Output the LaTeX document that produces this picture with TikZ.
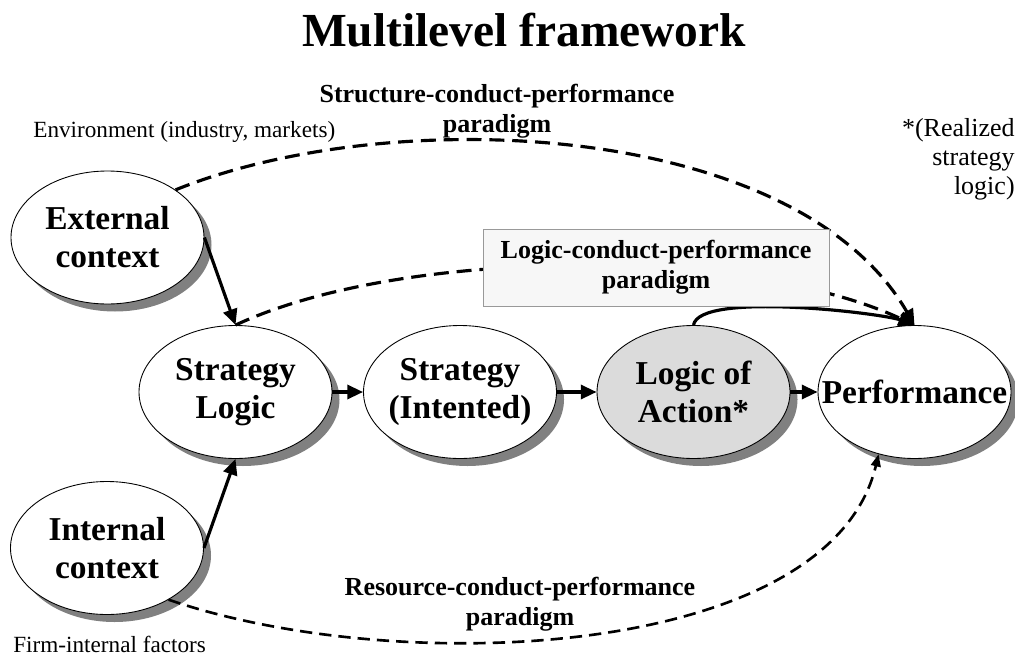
\documentclass[tikz,border=0pt]{standalone}
\usepackage{fontspec}
\setmainfont{Liberation Serif}
\usetikzlibrary{shapes.geometric,shadows,arrows.meta}

\begin{document}
\begin{tikzpicture}[
  level/.style={ellipse, draw, line width=0.5pt, fill=white,
    minimum width=3.86cm, minimum height=2.66cm,
    inner xsep=-0.6cm, inner ysep=0pt, align=center,
    font=\fontsize{19}{21.6}\selectfont\bfseries,
    drop shadow={shadow xshift=0.15cm, shadow yshift=-0.15cm, fill=black!50, opacity=1}},
  flow/.style={-{Triangle[length=9pt,width=8pt]}, line width=1.8pt},
  paradigm/.style={align=center, inner sep=0pt, font=\fontsize{14.8}{17}\selectfont\bfseries},
  note/.style={inner sep=0pt, font=\fontsize{13.2}{15}\selectfont},
]
\useasboundingbox (0,0) rectangle (20.3,13.18);

% title
\node[anchor=base, inner sep=0pt, font=\fontsize{27}{30}\selectfont\bfseries] (title) at (10.48,12.24) {Multilevel framework};

% levels
\node[level] (ext) at (2.15,8.43) {External\\context};
\node[level] (int) at (2.14,2.22) {Internal\\context};
\node[level] (sl) at (4.71,5.34) {Strategy\\Logic};
\node[level] (si) at (9.2,5.34) {Strategy\\(Intented)};
\node[level, fill=black!14] (loa) at (13.87,5.34) {Logic of\\Action*};
\node[level] (perf) at (18.29,5.34) {Performance};

% notes
\node[note, anchor=base west] (env) at (0.66,10.44) {Environment (industry, markets)};
\node[note, anchor=base west] (firm) at (0.26,0.14) {Firm-internal factors};
\node[note, anchor=north east, align=right, font=\fontsize{14.8}{16.5}\selectfont] (real) at (20.3,10.82) {*(Realized\\strategy\\logic)};
\node[paradigm] (scp) at (9.94,10.96) {Structure-conduct-performance\\paradigm};
\node[paradigm] (rcp) at (10.4,1.1) {Resource-conduct-performance\\paradigm};

% main chain
\draw[flow] (ext.east) -- (sl.north);
\draw[flow] (int.east) -- (sl.south);
\draw[flow] (sl) -- (si);
\draw[flow] (si) -- (loa);
\draw[flow] (loa) -- (perf);

% paradigms
\draw[flow, dash pattern=on 8.5pt off 4.5pt] (ext.35) to[out=22, in=120, looseness=0.8] (perf.north);
\draw[flow, dash pattern=on 8.5pt off 4.5pt] (sl.north) to[out=25, in=155, looseness=0.7] (perf.north);
\draw[flow] (loa.north) to[out=80, in=160, looseness=0.4] (perf.north);
\draw[-{Triangle[length=7pt,width=5.5pt]}, line width=1.5pt, dash pattern=on 7pt off 4pt]
  (int.-40) .. controls (8,-0.4) and (16.6,0) .. (perf.240);

\node[draw=black!40, fill=black!3, minimum width=6.92cm, minimum height=1.54cm, paradigm] (lcp) at (13.12,7.83) {Logic-conduct-performance\\paradigm};

\end{tikzpicture}
\end{document}
